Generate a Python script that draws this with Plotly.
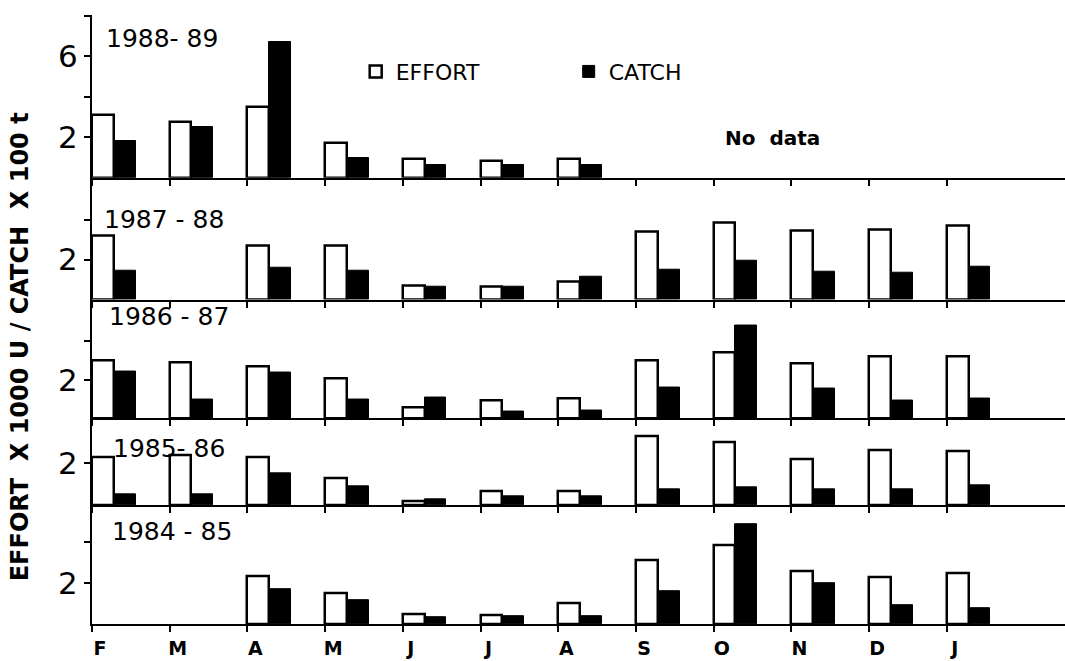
import plotly.graph_objects as go
from plotly.subplots import make_subplots

months = ["F", "M", "A", "M", "J", "J", "A", "S", "O", "N", "D", "J"]
seasons = ["1988- 89", "1987 - 88", "1986 - 87", "1985- 86", "1984 - 85"]

effort_1988_89 = [3.1, 2.75, 3.5, 1.7, 0.9, 0.85, 0.9, None, None, None, None, None]
catch_1988_89 = [1.8, 2.5, 6.7, 0.95, 0.65, 0.65, 0.65, None, None, None, None, None]
effort_1987_88 = [3.2, None, 2.7, 2.7, 0.7, 0.65, 0.9, 3.4, 3.85, 3.45, 3.5, 3.7]
catch_1987_88 = [1.45, None, 1.6, 1.45, 0.65, 0.65, 1.15, 1.5, 1.95, 1.4, 1.35, 1.65]
effort_1986_87 = [3.0, 2.9, 2.7, 2.05, 0.55, 0.95, 1.05, 3.0, 3.4, 2.85, 3.2, 3.2]
catch_1986_87 = [2.45, 1.0, 2.4, 1.0, 1.1, 0.35, 0.4, 1.6, 4.8, 1.55, 0.9, 1.05]
effort_1985_86 = [2.3, 2.4, 2.3, 1.3, 0.2, 0.65, 0.65, 3.3, 3.0, 2.2, 2.6, 2.55]
catch_1985_86 = [0.5, 0.5, 1.5, 0.9, 0.3, 0.4, 0.4, 0.75, 0.85, 0.75, 0.75, 0.95]
effort_1984_85 = [None, None, 2.35, 1.5, 0.5, 0.45, 1.0, 3.1, 3.85, 2.6, 2.3, 2.5]
catch_1984_85 = [None, None, 1.7, 1.15, 0.35, 0.4, 0.4, 1.6, 4.85, 2.0, 0.9, 0.75]

efforts = [effort_1988_89, effort_1987_88, effort_1986_87, effort_1985_86, effort_1984_85]
catches = [catch_1988_89, catch_1987_88, catch_1986_87, catch_1985_86, catch_1984_85]

y_ticks = [[2, 4, 6, 8], [2, 4], [2, 4], [2], [2, 4]]
y_ticktext = [["2", "", "6", ""], ["2", ""], ["2", ""], ["2"], ["2", ""]]

FONT = "DejaVu Sans"
x_idx = list(range(len(months)))

fig = make_subplots(rows=5, cols=1, shared_xaxes=False, vertical_spacing=0,
                    row_heights=[163, 122, 119, 87, 119])

y_ranges = [8.03, 6.1, 6.17, 4.14, 5.8]
label_y = [0.853, 0.656, 0.857, 0.655, 0.777]
label_x = [0.012, 0.010, 0.015, 0.020, 0.019]

for r in range(5):
    fig.add_trace(go.Bar(x=x_idx, y=efforts[r], name="EFFORT", offset=0, width=0.28,
                         marker=dict(color="white", line=dict(color="black", width=2.5)),
                         showlegend=(r == 0)), row=r + 1, col=1)
    fig.add_trace(go.Bar(x=x_idx, y=catches[r], name="CATCH", offset=0.28, width=0.28,
                         marker=dict(color="black", line=dict(color="black", width=1)),
                         showlegend=(r == 0)), row=r + 1, col=1)
    fig.update_xaxes(range=[0, 12.52], tickvals=x_idx, ticktext=[f"<b>{m}</b>" for m in months],
                     showticklabels=(r == 4), ticks="outside", ticklen=6, tickwidth=2,
                     tickcolor="black", showline=True, linecolor="black", linewidth=2,
                     showgrid=False, zeroline=False, ticklabelshift=8, automargin=False,
                     tickfont=dict(family=FONT, size=19, color="black"),
                     row=r + 1, col=1)
    fig.update_yaxes(range=[0, y_ranges[r]], tickvals=y_ticks[r], ticktext=y_ticktext[r],
                     ticks="outside", ticklen=6, tickwidth=2, tickcolor="black",
                     showline=True, linecolor="black", linewidth=2, showgrid=False,
                     zeroline=False, automargin=False,
                     tickfont=dict(family=FONT, size=31, color="black"),
                     row=r + 1, col=1)
    xr = "x domain" if r == 0 else f"x{r + 1} domain"
    yr = "y domain" if r == 0 else f"y{r + 1} domain"
    fig.add_annotation(text=seasons[r], xref=xr, yref=yr, x=label_x[r], y=label_y[r],
                       xanchor="left", yanchor="middle", showarrow=False,
                       font=dict(family=FONT, size=25, color="black"))

fig.add_annotation(text="<b>No  data</b>", xref="x", yref="y", x=8.76, y=1.97,
                   xanchor="center", yanchor="middle", showarrow=False,
                   font=dict(family=FONT, size=20, color="black"))

fig.add_annotation(text="<b>EFFORT  X 1000 U / CATCH  X 100 t</b>", xref="paper", yref="paper",
                   x=-0.074, y=0.456, xanchor="center", yanchor="middle",
                   textangle=-90, showarrow=False,
                   font=dict(family=FONT, size=24, color="black"))

fig.update_layout(
    width=1065, height=661,
    margin=dict(l=92, r=0, t=15, b=37, autoexpand=False),
    paper_bgcolor="white", plot_bgcolor="white",
    barmode="overlay", bargap=0,
    font=dict(family=FONT, color="black"),
    legend=dict(orientation="h", x=0.271, y=0.907, xanchor="left", yanchor="middle",
                font=dict(family=FONT, size=22, color="black"),
                entrywidth=168, entrywidthmode="pixels",
                bgcolor="rgba(0,0,0,0)", traceorder="normal"),
)

fig.write_html("out.html")
